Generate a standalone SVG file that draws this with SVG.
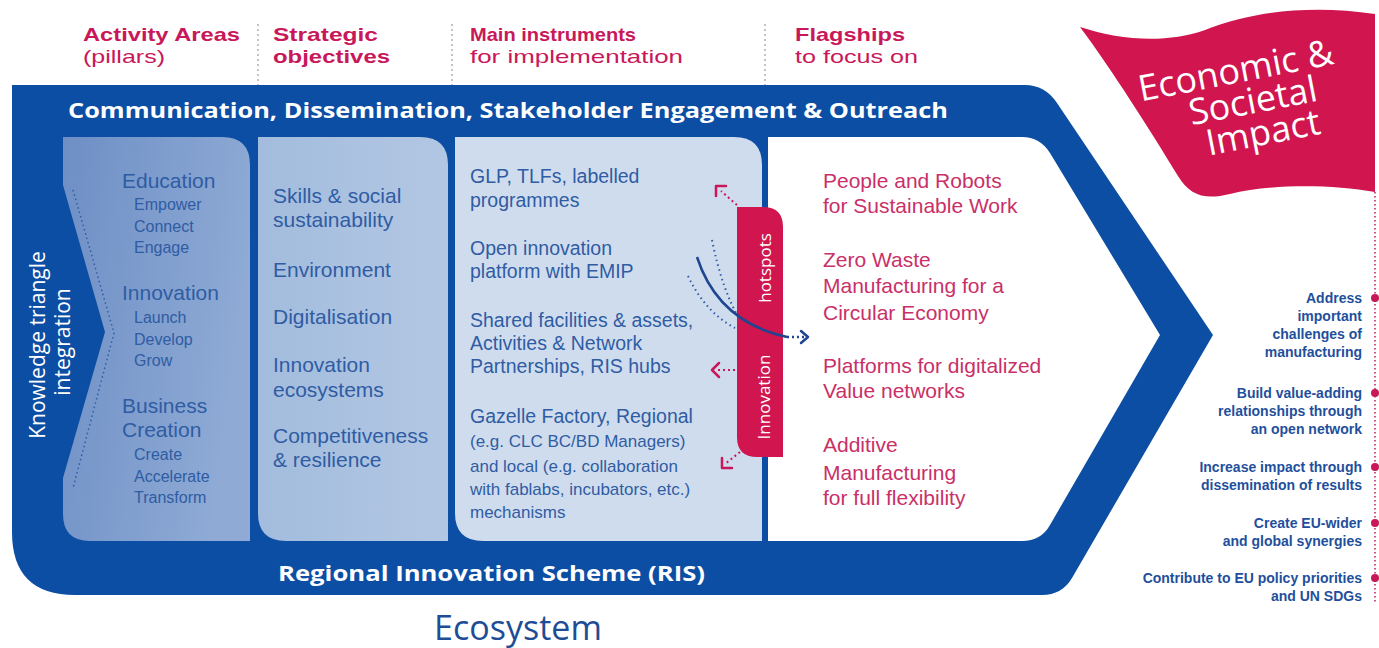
<svg xmlns="http://www.w3.org/2000/svg" width="1379" height="648" viewBox="0 0 1379 648">
<defs>
<style>
text{font-family:"Open Sans","Liberation Sans",Arial,sans-serif}
.ls{font-family:"Liberation Sans",Arial,sans-serif}
.hdb{font-family:"Liberation Sans",Arial,sans-serif;font-weight:700;font-size:19px;fill:#c8185a}
.hdr{font-family:"Liberation Sans",Arial,sans-serif;font-size:19px;fill:#c8185a}
.band{font-weight:700;font-size:22px;fill:#fff}
.p1h{font-family:"Liberation Sans",Arial,sans-serif;font-size:21px;fill:#2f5ca3}
.p1s{font-family:"Liberation Sans",Arial,sans-serif;font-size:16px;fill:#2f5ca3}
.p2{font-family:"Liberation Sans",Arial,sans-serif;font-size:21px;fill:#2f5ca3}
.p3{font-family:"Liberation Sans",Arial,sans-serif;font-size:19.5px;fill:#2f5ca3}
.p3s{font-family:"Liberation Sans",Arial,sans-serif;font-size:17px;fill:#2f5ca3}
.fl{font-family:"Liberation Sans",Arial,sans-serif;font-size:21px;fill:#c93068}
.rt{font-family:"Liberation Sans",Arial,sans-serif;font-weight:700;font-size:14px;fill:#1f4f9c;text-anchor:end}
.sep{stroke:#b0b0b0;stroke-width:1.5;stroke-dasharray:2 3;fill:none}
.cdot{stroke:#c8185a;stroke-width:2;stroke-dasharray:2 3;fill:none}
.chead{stroke:#c8185a;stroke-width:2.5;fill:none;stroke-linecap:round;stroke-linejoin:round}
</style>
<linearGradient id="g1" x1="0" y1="0" x2="1" y2="0.3">
<stop offset="0" stop-color="#6e8fc5"/>
<stop offset="1" stop-color="#8eaad5"/>
</linearGradient>
<linearGradient id="g2" x1="0" y1="0" x2="1" y2="0">
<stop offset="0" stop-color="#a3bcdd"/>
<stop offset="1" stop-color="#b2c7e3"/>
</linearGradient>
</defs>
<rect width="1379" height="648" fill="#fff"/>

<g id="headers">
<path class="sep" d="M258 24V85M452 24V85M765 24V85"/>
<text class="hdb" x="83" y="41" textLength="157" lengthAdjust="spacingAndGlyphs">Activity Areas</text>
<text class="hdr" x="83" y="63" textLength="82" lengthAdjust="spacingAndGlyphs">(pillars)</text>
<text class="hdb" x="273" y="41" textLength="105" lengthAdjust="spacingAndGlyphs">Strategic</text>
<text class="hdb" x="273" y="63" textLength="117" lengthAdjust="spacingAndGlyphs">objectives</text>
<text class="hdb" x="470" y="41" textLength="166" lengthAdjust="spacingAndGlyphs">Main instruments</text>
<text class="hdr" x="470" y="63" textLength="213" lengthAdjust="spacingAndGlyphs">for implementation</text>
<text class="hdb" x="795" y="41" textLength="110" lengthAdjust="spacingAndGlyphs">Flagships</text>
<text class="hdr" x="795" y="63" textLength="123" lengthAdjust="spacingAndGlyphs">to focus on</text>
</g>

<g id="frame">
<path d="M12 85H1025Q1045 85 1057 103L1213 335L1072 578Q1062 595 1042 595H75Q12 595 12 532Z" fill="#0c4ea4"/>
<text class="band" x="68" y="118" textLength="880" lengthAdjust="spacingAndGlyphs">Communication, Dissemination, Stakeholder Engagement &amp; Outreach</text>
<text class="band" x="278" y="581" textLength="427" lengthAdjust="spacingAndGlyphs">Regional Innovation Scheme (RIS)</text>
<text font-size="21" fill="#fff" transform="translate(45,345) rotate(-90)" text-anchor="middle">Knowledge triangle</text>
<text font-size="21" fill="#fff" transform="translate(70,342) rotate(-90)" text-anchor="middle">integration</text>
</g>

<g id="flagships">
<path d="M768 137H1022Q1040 137 1050 153L1160 335L1050 525Q1041 541 1022 541H768Z" fill="#fff"/>
<text class="fl" x="823" y="188">People and Robots</text>
<text class="fl" x="823" y="213">for Sustainable Work</text>
<text class="fl" x="823" y="267">Zero Waste</text>
<text class="fl" x="823" y="293">Manufacturing for a</text>
<text class="fl" x="823" y="320">Circular Economy</text>
<text class="fl" x="823" y="373">Platforms for digitalized</text>
<text class="fl" x="823" y="398">Value networks</text>
<text class="fl" x="823" y="452">Additive</text>
<text class="fl" x="823" y="480">Manufacturing</text>
<text class="fl" x="823" y="505">for full flexibility</text>
</g>

<g id="pillars">
<path d="M63 137H222Q250 137 250 165V541H90Q63 541 63 514V478L105 332L63 185Z" fill="url(#g1)"/>
<path d="M73 190L114 333L73 488" stroke="#2f5ca3" stroke-width="1.5" stroke-dasharray="1.5 3" fill="none"/>
<text class="p1h" x="122" y="188">Education</text>
<text class="p1s" x="134" y="210">Empower</text>
<text class="p1s" x="134" y="232">Connect</text>
<text class="p1s" x="134" y="253">Engage</text>
<text class="p1h" x="122" y="300">Innovation</text>
<text class="p1s" x="134" y="323">Launch</text>
<text class="p1s" x="134" y="345">Develop</text>
<text class="p1s" x="134" y="366">Grow</text>
<text class="p1h" x="122" y="413">Business</text>
<text class="p1h" x="122" y="437">Creation</text>
<text class="p1s" x="134" y="460">Create</text>
<text class="p1s" x="134" y="482">Accelerate</text>
<text class="p1s" x="134" y="503">Transform</text>
</g>

<g id="objectives">
<path d="M258 137H420Q448 137 448 165V541H286Q258 541 258 513Z" fill="url(#g2)"/>
<text class="p2" x="273" y="203">Skills &amp; social</text>
<text class="p2" x="273" y="227">sustainability</text>
<text class="p2" x="273" y="277">Environment</text>
<text class="p2" x="273" y="324">Digitalisation</text>
<text class="p2" x="273" y="372">Innovation</text>
<text class="p2" x="273" y="397">ecosystems</text>
<text class="p2" x="273" y="443">Competitiveness</text>
<text class="p2" x="273" y="467">&amp; resilience</text>
</g>

<g id="instruments">
<path d="M455 137H734Q762 137 762 165V541H483Q455 541 455 513Z" fill="#cfdcee"/>
<text class="p3" x="470" y="183">GLP, TLFs, labelled</text>
<text class="p3" x="470" y="207">programmes</text>
<text class="p3" x="470" y="255">Open innovation</text>
<text class="p3" x="470" y="278">platform with EMIP</text>
<text class="p3" x="470" y="327">Shared facilities &amp; assets,</text>
<text class="p3" x="470" y="350">Activities &amp; Network</text>
<text class="p3" x="470" y="373">Partnerships, RIS hubs</text>
<text class="p3" x="470" y="423">Gazelle Factory, Regional</text>
<text class="p3s" x="470" y="447">(e.g. CLC BC/BD Managers)</text>
<text class="p3s" x="470" y="472">and local (e.g. collaboration</text>
<text class="p3s" x="470" y="495">with fablabs, incubators, etc.)</text>
<text class="p3s" x="470" y="518">mechanisms</text>
</g>

<g id="hotspots">
<path d="M737 207H763Q783 207 783 227V457H757Q737 457 737 437Z" fill="#d0154f"/>
<text font-size="17" fill="#fff" transform="translate(771,268) rotate(-90)" text-anchor="middle">hotspots</text>
<text font-size="17" fill="#fff" transform="translate(770,397) rotate(-90)" text-anchor="middle">Innovation</text>
</g>

<g id="connectors">
<path d="M712 240Q722 290 740 320" stroke="#2f5ca3" stroke-width="2" stroke-dasharray="1.5 3.5" fill="none"/>
<path d="M688 276Q705 312 735 328" stroke="#2f5ca3" stroke-width="2" stroke-dasharray="1.5 3.5" fill="none"/>
<path d="M697 257Q718 322 787 337" stroke="#1e4590" stroke-width="2.5" fill="none"/>
<path d="M787 337H805" stroke="#1e4590" stroke-width="2.5" stroke-dasharray="2 3" fill="none"/>
<path d="M801 331L808 337L801 343" stroke="#1e4590" stroke-width="2.5" fill="none" stroke-linecap="round" stroke-linejoin="round"/>
<path class="cdot" d="M737 205L721 191"/>
<path class="chead" d="M716 196V186H726"/>
<path class="cdot" d="M735 370H717"/>
<path class="chead" d="M719 363L712 370L719 377"/>
<path class="cdot" d="M740 452L725 464"/>
<path class="chead" d="M722 458V468H732"/>
</g>

<g id="impact">
<path d="M1080 27C1120 40 1165 44 1205 30C1255 10 1315 5 1375 14V192C1330 184 1270 184 1230 194C1205 200 1190 196 1178 176C1150 130 1112 70 1080 27Z" fill="#d0154f"/>
<g transform="rotate(-11 1255 112)" fill="#fff" font-size="36" text-anchor="middle">
<text x="1244" y="80">Economic &amp;</text>
<text x="1255" y="113">Societal</text>
<text x="1259" y="146">Impact</text>
</g>
<path d="M1375 192V602" stroke="#c8185a" stroke-width="1.5" stroke-dasharray="1.5 2.5" fill="none"/>
<g fill="#c8185a">
<circle cx="1375" cy="298" r="4"/>
<circle cx="1375" cy="393" r="4"/>
<circle cx="1375" cy="467" r="4"/>
<circle cx="1375" cy="523" r="4"/>
<circle cx="1375" cy="578" r="4"/>
</g>
<text class="rt" x="1362" y="303">Address</text>
<text class="rt" x="1362" y="321">important</text>
<text class="rt" x="1362" y="339">challenges of</text>
<text class="rt" x="1362" y="357">manufacturing</text>
<text class="rt" x="1362" y="398">Build value-adding</text>
<text class="rt" x="1362" y="416">relationships through</text>
<text class="rt" x="1362" y="434">an open network</text>
<text class="rt" x="1362" y="472">Increase impact through</text>
<text class="rt" x="1362" y="490">dissemination of results</text>
<text class="rt" x="1362" y="528">Create EU-wider</text>
<text class="rt" x="1362" y="546">and global synergies</text>
<text class="rt" x="1362" y="583">Contribute to EU policy priorities</text>
<text class="rt" x="1362" y="601">and UN SDGs</text>
</g>

<g id="ecosystem">
<text x="518" y="640" font-size="34" fill="#1e4d95" text-anchor="middle">Ecosystem</text>
</g>
</svg>
